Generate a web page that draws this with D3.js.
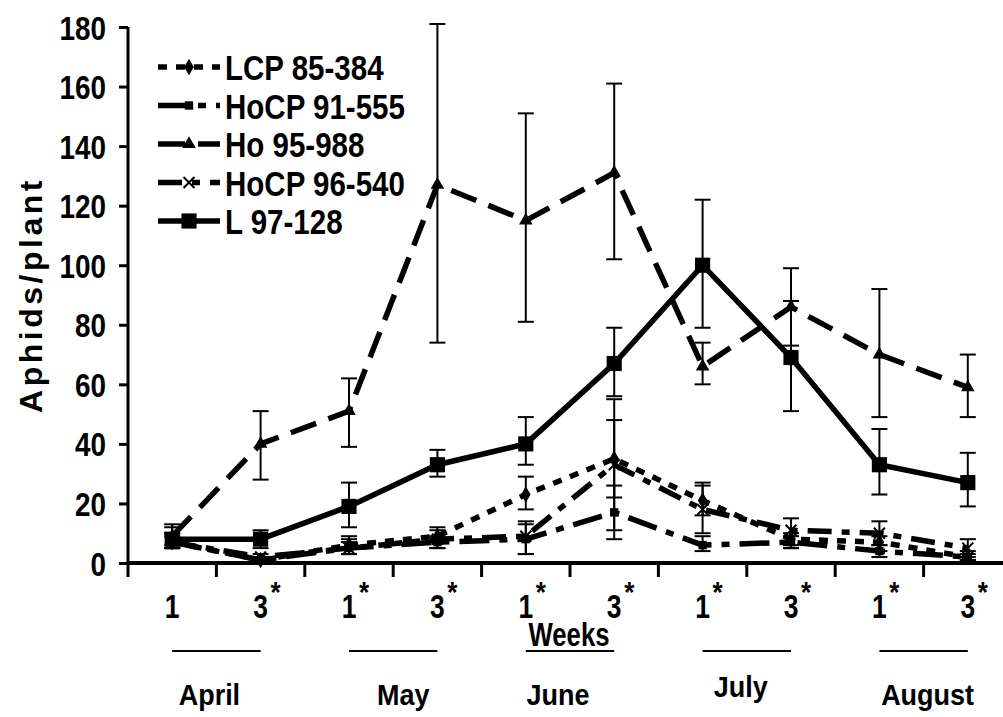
<!DOCTYPE html>
<html lang="en">
<head>
	<meta charset="utf-8">
	<title>Aphids per plant</title>
	<script src="https://d3js.org/d3.v7.min.js"></script>
	<style>
		body { margin: 0; background: #fff; }
		text { font-family: "Liberation Sans", Arial, sans-serif; font-weight: bold; fill: #000; }
	</style>
</head>
<body>
	<script>
	// week labels (asterisk = significant)
	var weeks = ["1", "3", "1", "3", "1", "3", "1", "3", "1", "3"];
	var starred = [false, true, true, true, true, true, true, true, true, true];
	var months = ["April", "May", "June", "July", "August"];
	var yTicks = [0, 20, 40, 60, 80, 100, 120, 140, 160, 180];

	var names = ["LCP 85-384", "HoCP 91-555", "Ho 95-988", "HoCP 96-540", "L 97-128"];

	// means
	var lcp = [7, 1, 6, 9, 23, 35, 21, 8, 7, 2];
	var hocp91 = [7, 1, 5, 7, 8, 17, 6, 7, 4, 2];
	var ho95 = [9, 40, 51, 127, 115, 131, 66, 86, 70, 59];
	var hocp96 = [7, 2, 5, 8, 9, 33, 18, 11, 10, 5];
	var l97 = [8, 8, 19, 33, 40, 67, 100, 69, 33, 27];

	// error bar ends
	var lcpLo = [5, 0, 3, 7, 18, 22, 16, 5, 4, 1];
	var lcpHi = [10, 2, 9, 12, 29, 48, 27, 10, 9, 4];
	var hocp91Lo = [5, 0, 3, 5, 3, 8, 4, 5, 2, 1];
	var hocp91Hi = [9, 2, 7, 9, 13, 26, 9, 9, 6, 3];
	var ho95Lo = [6, 28, 39, 74, 81, 102, 60, 73, 49, 49];
	var ho95Hi = [13, 51, 62, 181, 151, 161, 74, 99, 92, 70];
	var hocp96Lo = [5, 0, 3, 5, 3, 11, 10, 6, 6, 2];
	var hocp96Hi = [10, 3, 8, 11, 14, 55, 26, 15, 14, 8];
	var l97Lo = [5, 5, 12, 29, 33, 56, 79, 51, 23, 19];
	var l97Hi = [12, 11, 27, 38, 49, 79, 122, 88, 45, 37];

	var series = [
		{ name: names[0], v: lcp, lo: lcpLo, hi: lcpHi, dash: "9,9", sym: d3.symbolDiamond, size: 80 },
		{ name: names[1], v: hocp91, lo: hocp91Lo, hi: hocp91Hi, dash: "30,10,8,10", sym: d3.symbolSquare, size: 70 },
		{ name: names[2], v: ho95, lo: ho95Lo, hi: ho95Hi, dash: "27,13", sym: d3.symbolTriangle, size: 80 },
		{ name: names[3], v: hocp96, lo: hocp96Lo, hi: hocp96Hi, dash: "24,10,8,10", sym: d3.symbolX, size: 80 },
		{ name: names[4], v: l97, lo: l97Lo, hi: l97Hi, dash: null, sym: d3.symbolSquare, size: 230 }
	];

	var w = 1003, h = 717;
	var svg = d3.select("body").append("svg")
		.attr("width", w)
		.attr("height", h);

	var x = d3.scaleBand().domain(d3.range(10)).range([128, 1012]);
	var y = d3.scaleLinear().domain([0, 180]).range([563, 27]);
	var cx = function(i) { return x(i) + x.bandwidth() / 2; };

	// narrow bold text, like the original
	function label(px, py, str, size, sx, anchor) {
		return svg.append("text")
			.attr("transform", "translate(" + px + "," + py + ") scale(" + sx + ",1)")
			.attr("text-anchor", anchor || "middle")
			.style("font-size", size + "px")
			.text(str);
	}

	// y axis
	var yAxis = svg.append("g")
		.attr("transform", "translate(128,0)")
		.call(d3.axisLeft(y).tickValues(yTicks).tickSize(9).tickPadding(0));
	yAxis.select(".domain").attr("stroke-width", 3).attr("d", "M0," + y(180) + "V" + (y(0) + 14));
	yAxis.selectAll(".tick line").attr("stroke-width", 3);
	yAxis.selectAll("text")
		.attr("x", null).attr("dy", null)
		.attr("transform", "translate(-22,12) scale(0.82,1)")
		.style("font-size", "34px").attr("font-family", null);

	// x axis
	svg.append("line")
		.attr("x1", 128).attr("x2", w)
		.attr("y1", y(0)).attr("y2", y(0))
		.attr("stroke", "#000").attr("stroke-width", 4);
	svg.selectAll(".xtick")
		.data(d3.range(1, 10))
		.enter().append("line")
		.attr("x1", function(d) { return x(d); })
		.attr("x2", function(d) { return x(d); })
		.attr("y1", y(0)).attr("y2", y(0) + 14)
		.attr("stroke", "#000").attr("stroke-width", 3);

	weeks.forEach(function(wk, i) {
		label(cx(i), 618, wk, 33, 0.8);
		if (starred[i]) label(cx(i) + 15, 602, "*", 29, 0.9);
	});

	// Weeks title
	label(569, 646, "Weeks", 33, 0.78);

	// month lines and labels
	var monthShift = [-7, 10, -12, -6, 4];
	months.forEach(function(m, k) {
		var a = cx(2 * k), b = cx(2 * k + 1);
		svg.append("line")
			.attr("x1", a).attr("x2", b)
			.attr("y1", 651).attr("y2", 651)
			.attr("stroke", "#000").attr("stroke-width", 2);
		label((a + b) / 2 + monthShift[k], m == "July" ? 697 : 705, m, 30, 0.9);
	});

	// y title
	svg.append("text")
		.attr("transform", "translate(42," + ((y(0) + y(180)) / 2) + ") rotate(-90)")
		.attr("text-anchor", "middle")
		.style("font-size", "32px")
		.style("letter-spacing", "3.5px")
		.text("Aphids/plant");

	// error bars
	series.forEach(function(s) {
		var g = svg.append("g");
		s.v.forEach(function(v, i) {
			var px = cx(i);
			g.append("line").attr("x1", px).attr("x2", px)
				.attr("y1", y(s.lo[i])).attr("y2", y(s.hi[i]))
				.attr("stroke", "#000").attr("stroke-width", 2);
			[s.lo[i], s.hi[i]].forEach(function(e) {
				g.append("line").attr("x1", px - 8).attr("x2", px + 8)
					.attr("y1", y(e)).attr("y2", y(e))
					.attr("stroke", "#000").attr("stroke-width", 2);
			});
		});
	});

	// lines and markers
	var line = d3.line().x(function(d, i) { return cx(i); }).y(function(d) { return y(d); });
	series.forEach(function(s) {
		svg.append("path")
			.attr("d", line(s.v))
			.attr("fill", "none")
			.attr("stroke", "#000")
			.attr("stroke-width", 5.5)
			.attr("stroke-dasharray", s.dash);
		svg.selectAll(null)
			.data(s.v)
			.enter().append("path")
			.attr("transform", function(d, i) { return "translate(" + cx(i) + "," + y(d) + ")"; })
			.attr("d", d3.symbol().type(s.sym).size(s.size))
			.attr("fill", "#000")
			.attr("stroke", "#000")
			.attr("stroke-width", s.sym == d3.symbolX ? 2 : 0);
	});

	// legend
	var leg = svg.append("g").attr("transform", "translate(158,67)");
	series.forEach(function(s, k) {
		var gy = k * 38.5;
		leg.append("line")
			.attr("x1", 0).attr("x2", 62)
			.attr("y1", gy).attr("y2", gy)
			.attr("stroke", "#000").attr("stroke-width", 5.5)
			.attr("stroke-dasharray", s.dash);
		leg.append("path")
			.attr("transform", "translate(31," + gy + ")")
			.attr("d", d3.symbol().type(s.sym).size(s.size))
			.attr("fill", "#000")
			.attr("stroke", "#000")
			.attr("stroke-width", s.sym == d3.symbolX ? 2 : 0);
		leg.append("text")
			.attr("transform", "translate(67," + (gy + 13) + ") scale(0.82,1)")
			.style("font-size", "36px")
			.text(s.name);
	});
	</script>
</body>
</html>
